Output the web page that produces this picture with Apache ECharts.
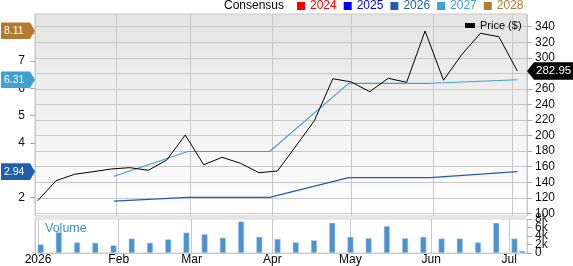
<!DOCTYPE html>
<html>
<head>
<meta charset="utf-8">
<script src="https://cdn.jsdelivr.net/npm/echarts@6/dist/echarts.min.js"></script>
<title>Consensus chart</title>
</head>
<body style="margin:0;background:#fff">
<div id="container" style="width:573px;height:266px"></div>
<script>
// weekly closes
var priceDates = ['2026-01-02','2026-01-09','2026-01-16','2026-01-23','2026-01-30','2026-02-06','2026-02-13',
    '2026-02-20','2026-02-27','2026-03-06','2026-03-13','2026-03-20','2026-03-27','2026-04-03','2026-04-10',
    '2026-04-17','2026-04-24','2026-05-01','2026-05-08','2026-05-15','2026-05-22','2026-05-29','2026-06-05',
    '2026-06-12','2026-06-19','2026-06-26','2026-07-03'];
var prices = [116.2, 141.9, 150.2, 153.5, 157, 158.7, 155.3, 168.6, 200.7, 162.5, 172, 164.3, 152.2, 154.4,
    186.5, 219.1, 273.1, 268.9, 256.4, 273.6, 268.5, 334.5, 271.1, 304.5, 331.5, 327.1, 282.95];

var volumeDates = priceDates.concat(['2026-07-06']);
var volumes = [2000, 4900, 2500, 2400, 1800, 3400, 2400, 3200, 4800, 4400, 3600, 7400, 3800, 3300,
    2500, 3000, 7100, 3800, 3500, 6300, 3500, 3800, 3400, 3400, 2500, 7100, 3400, 500];

// consensus EPS estimates
var consDates = ['2026-01-31','2026-02-28','2026-03-31','2026-04-30','2026-05-31','2026-07-03'];
var eps2026 = [1.86, 2.0, 2.0, 2.72, 2.72, 2.94];
var eps2027 = [2.77, 3.68, 3.68, 6.18, 6.18, 6.31];
var eps2028Last = 8.11;

var yearNames = ['2024', '2025', '2026', '2027', '2028'];
var yearColors = ['#ff0000', '#0000ff', '#1f5fae', '#3fa0d2', '#b27b2e'];
var monthLabels = ['2026', 'Feb', 'Mar', 'Apr', 'May', 'Jun', 'Jul'];
var priceTicks = {min: 100, max: 340, interval: 20};
var epsTicks = {min: 2, max: 8, interval: 1};
var volTicks = {min: 0, max: 8000, interval: 2000};
var volTickValues = [0, 2000, 4000, 6000, 8000];
var volTickLabels = ['0', '2k', '4k', '6k', '8k'];

var xMin = '2026-01-01';
var xMax = '2026-07-06 16:00';
var FONT = 'Liberation Sans, Arial, sans-serif';

function pairs(xs, ys) {
    return xs.map(function (x, i) { return [x, ys[i]]; });
}

var chart = echarts.init(document.getElementById('container'), null, {renderer: 'canvas'});

function timeAxis(grid, showLabels) {
    return {
        type: 'time', gridIndex: grid, min: xMin, max: xMax,
        splitNumber: 7,
        axisLine: {show: showLabels, lineStyle: {color: '#c8c8c8'}},
        axisTick: {show: false},
        splitLine: {show: grid === 0 || grid === 3, lineStyle: {color: '#c8c8c8', width: 1}},
        axisLabel: {
            show: showLabels, margin: 1, color: '#000', fontSize: 12, fontFamily: FONT,
            formatter: function (val) {
                var d = new Date(val);
                return d.getDate() === 1 ? (monthLabels[d.getMonth()] || '') : '';
            }
        }
    };
}

var legendData = yearNames.map(function (n, i) {
    return {name: n, textStyle: {color: yearColors[i]}};
});

var option = {
    backgroundColor: '#fff',
    animation: false,
    title: {
        text: 'Consensus', left: 224, top: 0, padding: 0,
        textStyle: {fontSize: 12, fontWeight: 'normal', color: '#000', fontFamily: FONT}
    },
    legend: [{
        data: legendData, left: 297, top: 0, padding: 0,
        icon: 'rect', itemWidth: 8, itemHeight: 8, itemGap: 7,
        textStyle: {fontSize: 12, fontFamily: FONT}
    }, {
        data: ['Price ($)'], left: 465, top: 20, padding: 0,
        icon: 'rect', itemWidth: 10, itemHeight: 5, itemGap: 0,
        textStyle: {fontSize: 11, color: '#000', fontFamily: FONT}
    }],
    grid: [
        {left: 35, right: 46, top: 14, bottom: 50, show: true, borderColor: '#c8c8c8', borderWidth: 1,
            backgroundColor: new echarts.graphic.LinearGradient(0, 0, 0, 1, [
                {offset: 0, color: '#e4e4e4'}, {offset: 1, color: '#ffffff'}])},
        {left: 35, right: 46, top: 26.7, bottom: 52.7},
        {left: 35, right: 46, top: 33.7, bottom: 68.7},
        {left: 35, right: 46, top: 219, bottom: 12.7, show: true, borderColor: '#d4d4d4',
            borderWidth: 1, backgroundColor: '#fff'}
    ],
    xAxis: [timeAxis(0, false), timeAxis(1, false), timeAxis(2, false), timeAxis(3, true)],
    yAxis: [
        {type: 'value', gridIndex: 0, min: 0, max: 1, show: false},
        {
            type: 'value', gridIndex: 1, position: 'right',
            min: priceTicks.min, max: priceTicks.max, interval: priceTicks.interval,
            axisLine: {show: false},
            axisTick: {show: true, length: 5, lineStyle: {color: '#aaa'}},
            splitLine: {lineStyle: {color: '#c8c8c8'}},
            axisLabel: {margin: 8, color: '#111', fontSize: 12, fontFamily: FONT, interval: 0,
                showMinLabel: true, showMaxLabel: true, hideOverlap: false}
        },
        {
            type: 'value', gridIndex: 2, position: 'left',
            min: epsTicks.min, max: epsTicks.max, interval: epsTicks.interval,
            axisLine: {show: false},
            axisTick: {show: true, length: 5, lineStyle: {color: '#aaa'}},
            splitLine: {show: false},
            axisLabel: {margin: 10, color: '#111', fontSize: 12, fontFamily: FONT, interval: 0}
        },
        {
            type: 'value', gridIndex: 3, position: 'right',
            min: volTicks.min, max: volTicks.max, interval: volTicks.interval,
            axisLine: {show: false},
            axisTick: {show: true, length: 5, interval: 0, lineStyle: {color: '#aaa'}},
            splitLine: {show: false},
            axisLabel: {show: false}
        }
    ],
    series: [
        {name: '2024', type: 'line', xAxisIndex: 2, yAxisIndex: 2, data: [], color: yearColors[0]},
        {name: '2025', type: 'line', xAxisIndex: 2, yAxisIndex: 2, data: [], color: yearColors[1]},
        {
            name: '2026', type: 'line', xAxisIndex: 2, yAxisIndex: 2, clip: false,
            color: yearColors[2], symbol: 'none', lineStyle: {width: 1.3},
            data: pairs(consDates, eps2026)
        },
        {
            name: '2027', type: 'line', xAxisIndex: 2, yAxisIndex: 2, clip: false,
            color: yearColors[3], symbol: 'none', lineStyle: {width: 1.1},
            data: pairs(consDates, eps2027)
        },
        {name: '2028', type: 'line', xAxisIndex: 2, yAxisIndex: 2, data: [], color: yearColors[4]},
        {
            name: 'Price ($)', type: 'line', xAxisIndex: 1, yAxisIndex: 1, clip: false,
            color: '#000', symbol: 'none', lineStyle: {width: 1},
            data: pairs(priceDates, prices)
        },
        {
            name: 'Volume', type: 'bar', xAxisIndex: 3, yAxisIndex: 3, barWidth: 6,
            itemStyle: {color: '#4b92d0', borderColor: '#b9d5ee', borderWidth: 0.5},
            data: pairs(volumeDates, volumes)
        }
    ]
};

chart.setOption(option);

// value badges on the axes
function leftBadge(v, color) {
    var y = chart.convertToPixel({yAxisIndex: 2}, v);
    return [{
        type: 'polygon', z: 100,
        shape: {points: [[1, y - 8.3], [30, y - 8.3], [35, y], [30, y + 8.3], [1, y + 8.3]]},
        style: {fill: color}
    }, {
        type: 'text', z: 101, x: 4, y: y,
        style: {text: v.toFixed(2), fill: '#fff', font: '10.5px ' + FONT, verticalAlign: 'middle'}
    }];
}
// volume axis labels (overlap each other, so drawn directly)
var volLabels = volTickValues.map(function (v, i) {
    return {
        type: 'text', z: 40, x: 535, y: chart.convertToPixel({yAxisIndex: 3}, v),
        style: {text: volTickLabels[i], fill: '#111', font: '12px ' + FONT, verticalAlign: 'middle'}
    };
});
var lastPrice = prices[prices.length - 1];
var py = chart.convertToPixel({yAxisIndex: 1}, lastPrice);
var graphics = [].concat(
    leftBadge(eps2028Last, yearColors[4]),
    leftBadge(eps2027[eps2027.length - 1], yearColors[3]),
    leftBadge(eps2026[eps2026.length - 1], yearColors[2]),
    volLabels,
    [{
        type: 'polygon', z: 100,
        shape: {points: [[527, py], [534, py - 8.7], [573, py - 8.7], [573, py + 8.7], [534, py + 8.7]]},
        style: {fill: '#000'}
    }, {
        type: 'text', z: 101, x: 536, y: py,
        style: {text: lastPrice.toFixed(2), fill: '#fff', font: '11.5px ' + FONT, verticalAlign: 'middle'}
    }, {
        type: 'rect', z: 50, shape: {x: 35, y: 216.3, width: 492, height: 2.7},
        style: {fill: '#e4e4e4'}
    }, {
        type: 'text', z: 60, x: 45, y: 229,
        style: {text: 'Volume', fill: '#3d8fd3', font: '12.5px ' + FONT, verticalAlign: 'middle'}
    }]
);
chart.setOption({graphic: graphics});

window.addEventListener('resize', chart.resize);
</script>
</body>
</html>
